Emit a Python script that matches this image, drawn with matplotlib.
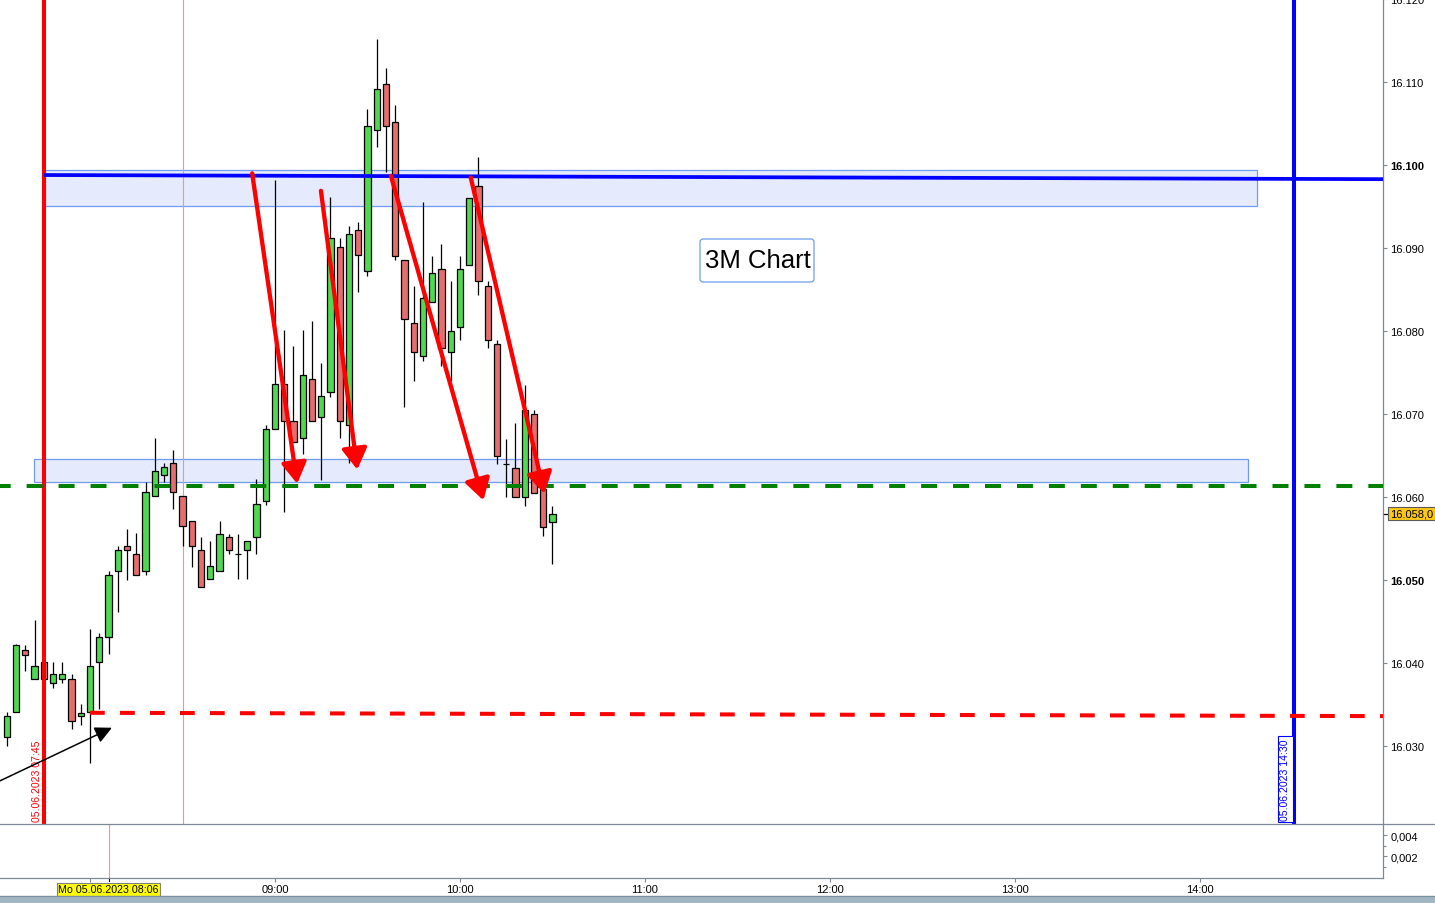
import matplotlib
matplotlib.use("Agg")
import matplotlib.pyplot as plt
import matplotlib.transforms as mtransforms
from matplotlib.patches import Rectangle, FancyBboxPatch
from matplotlib.lines import Line2D

plt.rcParams['font.family'] = ['Liberation Sans', 'DejaVu Sans']
plt.rcParams['lines.scale_dashes'] = False

# ---------------- data (3-minute candles, 05.06.2023) ----------------
times = ["07:33", "07:36", "07:39", "07:42", "07:45", "07:48", "07:51", "07:54", "07:57", "08:00",
         "08:03", "08:06", "08:09", "08:12", "08:15", "08:18", "08:21", "08:24", "08:27", "08:30",
         "08:33", "08:36", "08:39", "08:42", "08:45", "08:48", "08:51", "08:54", "08:57", "09:00",
         "09:03", "09:06", "09:09", "09:12", "09:15", "09:18", "09:21", "09:24", "09:27", "09:30",
         "09:33", "09:36", "09:39", "09:42", "09:45", "09:48", "09:51", "09:54", "09:57", "10:00",
         "10:03", "10:06", "10:09", "10:12", "10:15", "10:18", "10:21", "10:24", "10:27", "10:30"]

opens = [16.0311, 16.0341, 16.0416, 16.0381, 16.0401, 16.0376, 16.0381, 16.0381, 16.0336, 16.0341,
         16.0401, 16.0431, 16.0511, 16.0541, 16.0531, 16.0511, 16.0601, 16.0627, 16.0641, 16.0601,
         16.0571, 16.0536, 16.0501, 16.0511, 16.0552, 16.0531, 16.0536, 16.0552, 16.0595, 16.0682,
         16.0736, 16.0692, 16.0671, 16.0742, 16.0696, 16.0727, 16.0901, 16.0687, 16.0922, 16.0872,
         16.1042, 16.1098, 16.1052, 16.0886, 16.0810, 16.0770, 16.0835, 16.0875, 16.0775, 16.0805,
         16.0880, 16.0975, 16.0854, 16.0784, 16.0640, 16.0635, 16.0600, 16.0700, 16.0610, 16.0570]

highs = [16.0341, 16.0423, 16.0422, 16.0452, 16.0401, 16.0401, 16.0401, 16.0387, 16.0351, 16.0441,
         16.0436, 16.0511, 16.0541, 16.0561, 16.0557, 16.0618, 16.0671, 16.0641, 16.0657, 16.0601,
         16.0571, 16.0552, 16.0547, 16.0571, 16.0555, 16.0555, 16.0547, 16.0622, 16.0687, 16.0982,
         16.0801, 16.0782, 16.0801, 16.0812, 16.0761, 16.0961, 16.0912, 16.0927, 16.0931, 16.1067,
         16.1152, 16.1117, 16.1072, 16.0886, 16.0854, 16.0955, 16.0890, 16.0905, 16.0860, 16.0890,
         16.0960, 16.1010, 16.0860, 16.0789, 16.0670, 16.0689, 16.0735, 16.0705, 16.0610, 16.0589]

lows = [16.0300, 16.0341, 16.0390, 16.0381, 16.0381, 16.0370, 16.0376, 16.0320, 16.0325, 16.0280,
        16.0345, 16.0411, 16.0461, 16.0500, 16.0506, 16.0506, 16.0601, 16.0618, 16.0586, 16.0541,
        16.0516, 16.0492, 16.0501, 16.0511, 16.0531, 16.0501, 16.0501, 16.0531, 16.0590, 16.0682,
        16.0582, 16.0666, 16.0652, 16.0692, 16.0620, 16.0720, 16.0671, 16.0641, 16.0847, 16.0866,
        16.1022, 16.0992, 16.0886, 16.0708, 16.0740, 16.0764, 16.0835, 16.0758, 16.0740, 16.0789,
        16.0880, 16.0843, 16.0780, 16.0640, 16.0600, 16.0600, 16.0589, 16.0605, 16.0553, 16.0519]

closes = [16.0336, 16.0422, 16.0410, 16.0396, 16.0381, 16.0387, 16.0387, 16.0330, 16.0340, 16.0396,
          16.0431, 16.0506, 16.0536, 16.0536, 16.0506, 16.0606, 16.0631, 16.0636, 16.0606, 16.0565,
          16.0541, 16.0492, 16.0517, 16.0555, 16.0536, 16.0531, 16.0547, 16.0592, 16.0682, 16.0736,
          16.0692, 16.0666, 16.0747, 16.0692, 16.0722, 16.0912, 16.0692, 16.0917, 16.0892, 16.1047,
          16.1092, 16.1047, 16.0890, 16.0814, 16.0775, 16.0840, 16.0870, 16.0780, 16.0800, 16.0875,
          16.0960, 16.0860, 16.0789, 16.0649, 16.0640, 16.0600, 16.0705, 16.0605, 16.0564, 16.0580]

price_ticks = [16.030, 16.040, 16.050, 16.060, 16.070, 16.080, 16.090, 16.100, 16.110, 16.120]
bold_price_ticks = [16.050, 16.100]
hour_ticks = ["08:00", "09:00", "10:00", "11:00", "12:00", "13:00", "14:00"]
hour_labels = ["", "09:00", "10:00", "11:00", "12:00", "13:00", "14:00"]
lower_ticks = [0.002, 0.004]
lower_labels = ["0,002", "0,004"]
last_price = 16.0580
last_price_label = "16.058,0"
cursor_label = "Mo 05.06.2023 08:06"

# drawn objects (time, price)
zone_upper = (("07:45.4", "14:18.4"), (16.0951, 16.0994))
zone_lower = (("07:41.8", "14:15.6"), (16.0618, 16.0646))
blue_level = (("07:45", "14:59.4"), (16.0988, 16.0983))
green_level = 16.0613
red_level = (("08:00", "14:59.4"), (16.0340, 16.0336))
red_vline = "07:45"
blue_vline = "14:30"
cursor_main = "08:30"
cursor_lower = "08:06"
red_arrows = [(("08:52.6", 16.0990), ("09:07.2", 16.0616)),
              (("09:14.9", 16.0969), ("09:26.7", 16.0633)),
              (("09:37.6", 16.0987), ("10:07.6", 16.0596)),
              (("10:03.5", 16.0985), ("10:27.4", 16.0604))]
black_arrow = (("07:30.8", 16.0258), ("08:07.1", 16.0322))


def tmin(s):
    h, m = s.split(':')
    return int(h) * 60 + float(m)


x = [tmin(t) for t in times]

W, H = 1435, 904
fig = plt.figure(figsize=(W / 100, H / 100), dpi=100)
fig.patch.set_facecolor('white')

ax = fig.add_axes([0, 1 - 825 / H, 1383 / W, 825 / H])
axl = fig.add_axes([0, 1 - 878.5 / H, 1383 / W, 53.5 / H])

x_min, x_max = 450.8, 899.4
ax.set_xlim(x_min, x_max)
axl.set_xlim(x_min, x_max)
ax.set_ylim(16.02060, 16.12001)
axl.set_ylim(-0.00004, 0.0051)

grid_c = '#7d8a96'
for a in (ax, axl):
    a.set_facecolor('white')
    for s in a.spines.values():
        s.set_color(grid_c)
        s.set_linewidth(0.9)
    a.spines['left'].set_visible(False)
ax.spines['top'].set_visible(False)
ax.spines['bottom'].set_visible(False)

# ---------------- zones ----------------
for (t0, t1), (p0, p1) in (zone_upper, zone_lower):
    ax.add_patch(Rectangle((tmin(t0), p0), tmin(t1) - tmin(t0), p1 - p0,
                           fc='#e5ebfd', ec='#6e9cf2', lw=0.9, zorder=1))

# thin cursor lines
ax.axvline(tmin(cursor_main), color='#ff8f8f', lw=0.8, zorder=1.5)
axl.axvline(tmin(cursor_lower), color='#ff8f8f', lw=0.8, zorder=1.5)

# ---------------- candles ----------------
bw = 2.05
ax.vlines(x, lows, highs, color='black', lw=0.9, zorder=3)
for xi, o, c in zip(x, opens, closes):
    if abs(c - o) < 1e-9:
        ax.hlines(o, xi - bw / 2, xi + bw / 2, color='black', lw=0.9, zorder=4)
    else:
        fc = '#50d850' if c > o else '#e46d6d'
        ax.add_patch(Rectangle((xi - bw / 2, min(o, c)), bw, abs(c - o),
                               fc=fc, ec='black', lw=0.9, zorder=4))

# ---------------- lines ----------------
ax.axvline(tmin(red_vline), color='#ff0000', lw=2.9, zorder=5)
ax.axvline(tmin(blue_vline) + 0.4, color='#0000ff', lw=2.9, zorder=5)

(bt0, bt1), (bp0, bp1) = blue_level
ax.add_line(Line2D([tmin(bt0), tmin(bt1)], [bp0, bp1], color='#0000ff', lw=2.7,
                   solid_capstyle='butt', zorder=6))

ax.add_line(Line2D([x_min, x_max], [green_level, green_level], color='#008000', lw=2.9,
                   linestyle=(3.8, (11.5, 11.5)), dash_capstyle='butt', zorder=6))

(rt0, rt1), (rp0, rp1) = red_level
ax.add_line(Line2D([tmin(rt0), tmin(rt1)], [rp0, rp1], color='#ff0000', lw=2.9,
                   linestyle=(0, (10.6, 11.0)), dash_capstyle='butt', zorder=6))

# ---------------- arrows ----------------
for (ts, ps), (te, pe) in red_arrows:
    ax.annotate('', xy=(tmin(te), pe), xytext=(tmin(ts), ps),
                arrowprops=dict(arrowstyle='-|>,head_length=0.55,head_width=0.33',
                                mutation_scale=23, color='#ff0000', lw=3.1,
                                shrinkA=0, shrinkB=0), zorder=8)

(ts, ps), (te, pe) = black_arrow
ax.annotate('', xy=(tmin(te), pe), xytext=(tmin(ts), ps),
            arrowprops=dict(arrowstyle='-|>,head_length=0.85,head_width=0.42',
                            mutation_scale=12, color='black', lw=1.1,
                            shrinkA=0, shrinkB=0), zorder=8, annotation_clip=False)

# ---------------- vertical line labels ----------------
ax.annotate('05.06.2023 07:45', xy=(tmin(red_vline), 0), xycoords=('data', 'axes fraction'),
            xytext=(-1.6, 2.0), textcoords='offset points', rotation=90,
            ha='right', va='bottom', color='#ff0000', fontsize=7.6, zorder=7)
ax.annotate('05.06.2023 14:30', xy=(tmin(blue_vline), 0), xycoords=('data', 'axes fraction'),
            xytext=(-5.0, 3.2), textcoords='offset points', rotation=90,
            ha='center', va='bottom', color='#0000ff', fontsize=7.6, zorder=7,
            bbox=dict(boxstyle='square,pad=0.2', fc='white', ec='#0000ff', lw=0.8))

# ---------------- axis ticks ----------------
ax.set_xticks([])
ax.yaxis.tick_right()
ax.set_yticks(price_ticks)
ax.set_yticklabels([f'{v:.3f}' for v in price_ticks])
ax.tick_params(axis='y', direction='out', length=3, width=0.8, color=grid_c,
               pad=2.3, labelsize=8, labelcolor='black')
for v, lab in zip(price_ticks, ax.get_yticklabels()):
    if any(abs(v - b) < 1e-6 for b in bold_price_ticks):
        lab.set_fontweight('bold')

axl.yaxis.tick_right()
axl.set_yticks(lower_ticks)
axl.set_yticklabels(lower_labels)
axl.set_yticks([0.001, 0.003], minor=True)
axl.tick_params(axis='y', which='major', direction='out', length=3, width=0.8, color=grid_c,
                pad=2.3, labelsize=8)
axl.tick_params(axis='y', which='minor', direction='out', length=2, width=0.8, color=grid_c)

axl.set_xticks([tmin(t) for t in hour_ticks])
axl.set_xticklabels(hour_labels)
axl.tick_params(axis='x', direction='out', length=3, width=0.8, color=grid_c,
                pad=1.5, labelsize=8)

# cursor time label
axl.annotate(cursor_label, xy=(tmin(cursor_lower), 0), xycoords=('data', 'axes fraction'),
             xytext=(0, -8.5), textcoords='offset points', ha='center', va='center',
             fontsize=7.7, annotation_clip=False, zorder=10,
             bbox=dict(boxstyle='square,pad=0.12', fc='#ffff00', ec='#808080', lw=0.8))
axl.plot([tmin(cursor_lower)] * 2, [0, -0.07], transform=axl.get_xaxis_transform(),
         color='black', lw=0.8, clip_on=False)

# last price label
trans = mtransforms.blended_transform_factory(ax.transAxes, ax.transData)
ax.plot([1.0, 1.004], [last_price, last_price], transform=trans, color='black',
        lw=0.9, clip_on=False)
ax.text(1.0051, last_price, last_price_label, transform=trans, ha='left', va='center',
        fontsize=8, clip_on=False, zorder=10,
        bbox=dict(boxstyle='square,pad=0.15', fc='#fcc814', ec='#5a5a5a', lw=0.8))

# ---------------- figure decorations ----------------
ident = mtransforms.IdentityTransform()
fig.add_artist(Line2D([1383, W], [H - 825, H - 825], transform=ident, color=grid_c, lw=0.9))
fig.add_artist(Rectangle((0, 0), W, 7.5, transform=ident, fc='#a3b6c3', ec='none'))
fig.add_artist(Line2D([0, W], [7.5, 7.5], transform=ident, color='#7f929f', lw=1.0))

# text box "3M Chart"
fig.add_artist(FancyBboxPatch((700, H - 283), 114, 43, transform=ident,
                              boxstyle='round,pad=0,rounding_size=3',
                              fc='white', ec='#6e9cf2', lw=0.9, zorder=20))
fig.text(758 / W, (H - 268) / H, '3M Chart', ha='center', va='baseline',
         fontsize=18.5, color='black', zorder=21)

fig.savefig('out.png', dpi=100)
